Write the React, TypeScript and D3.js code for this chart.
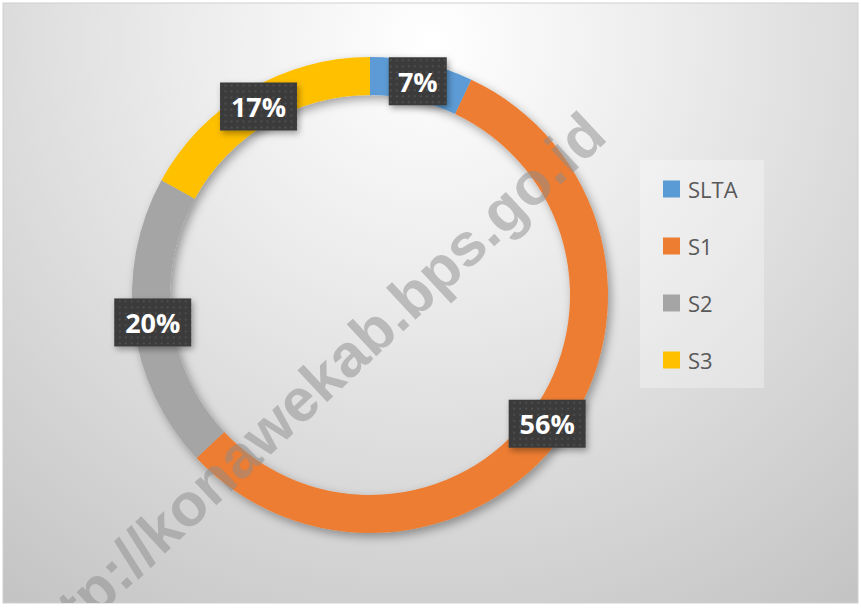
import React from "react";
import * as d3 from "d3";

const categories = ["SLTA", "S1", "S2", "S3"];
const values = [7, 56, 20, 17];
const labels = ["7%", "56%", "20%", "17%"];
const colors = ["#5b9bd5", "#ed7d31", "#a5a5a5", "#ffc000"];
const watermark = "http://konawekab.bps.go.id";

const W = 861;
const H = 608;
const cx = 370;
const cy = 295;
const outerR = 238;
const innerR = 200;

export default function App() {
  const pie = d3.pie<number>().sort(null).value((d) => d)(values);
  const arc = d3.arc<d3.PieArcDatum<number>>().innerRadius(innerR).outerRadius(outerR);
  const legendY = d3.scalePoint<string>().domain(categories).range([189, 360]);

  return (
    <svg width={W} height={H} style={{ position: "absolute", left: 0, top: 0 }} fontFamily="'Open Sans', sans-serif">
      <defs>
        <radialGradient id="bg" gradientUnits="userSpaceOnUse" cx={430} cy={40} r={720}>
          <stop offset="0" stopColor="#ffffff" />
          <stop offset="0.35" stopColor="#ebebeb" />
          <stop offset="1" stopColor="#c2c2c2" />
        </radialGradient>
        <filter id="ringShadow" x="-20%" y="-20%" width="140%" height="140%">
          <feDropShadow dx="3" dy="4" stdDeviation="5" floodColor="#000" floodOpacity="0.35" />
        </filter>
        <filter id="boxShadow" x="-30%" y="-30%" width="160%" height="160%">
          <feDropShadow dx="2" dy="3" stdDeviation="3" floodColor="#000" floodOpacity="0.35" />
        </filter>
        <pattern id="dots" width="6" height="6" patternUnits="userSpaceOnUse">
          <rect width="6" height="6" fill="#3b3b3b" />
          <circle cx="3" cy="3" r="0.9" fill="#555" />
        </pattern>
        <clipPath id="frame">
          <rect x={3} y={3} width={855} height={600} />
        </clipPath>
      </defs>
      <rect width={W} height={H} fill="#ffffff" />
      <rect x={3} y={3} width={855} height={600} fill="url(#bg)" stroke="#d0d0d0" />

      <g transform={`translate(${cx},${cy})`} filter="url(#ringShadow)">
        {pie.map((p, i) => (
          <path key={categories[i]} d={arc(p) || ""} fill={colors[i]} />
        ))}
      </g>

      {pie.map((p, i) => {
        const [lx, ly] = arc.centroid(p);
        const w = labels[i].length * 19 + 20;
        const h = 48;
        return (
          <g key={"l" + i} transform={`translate(${cx + lx},${cy + ly})`}>
            <rect x={-w / 2} y={-h / 2} width={w} height={h} fill="url(#dots)" filter="url(#boxShadow)" />
            <text
              textAnchor="middle"
              dominantBaseline="central"
              fill="#ffffff"
              fontWeight="bold"
              fontSize={27}
            >
              {labels[i]}
            </text>
          </g>
        );
      })}

      <rect x={640} y={160} width={124} height={228} fill="#ffffff" fillOpacity={0.3} />
      {categories.map((c, i) => (
        <g key={"lg" + c} transform={`translate(663,${legendY(c)})`}>
          <rect x={0} y={-8.5} width={17} height={17} fill={colors[i]} />
          <text x={25} y={0} dominantBaseline="central" fontSize={22} fill="#595959">
            {c}
          </text>
        </g>
      ))}

      <g clipPath="url(#frame)">
        <text
          transform="translate(310,390) rotate(-43)"
          textAnchor="middle"
          dominantBaseline="central"
          fontFamily="'Liberation Sans', Arial, sans-serif"
          fontWeight="bold"
          fontSize={60}
          fill="#8c8c8c"
          fillOpacity={0.5}
          textLength={780}
          lengthAdjust="spacingAndGlyphs"
        >
          {watermark}
        </text>
      </g>
    </svg>
  );
}
